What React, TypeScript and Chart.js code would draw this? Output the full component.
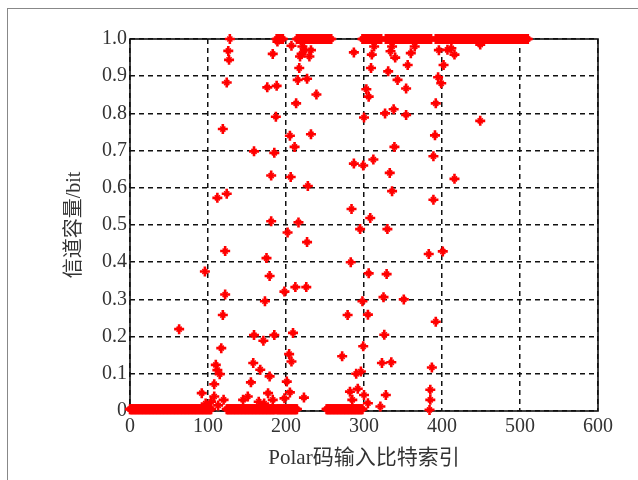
import React, { useEffect, useRef } from 'react';
import { Chart, registerables } from 'chart.js';

Chart.register(...registerables);

// Tick values
const xTickValues = [0, 100, 200, 300, 400, 500, 600];
const yTickValues = [0, 0.1, 0.2, 0.3, 0.4, 0.5, 0.6, 0.7, 0.8, 0.9, 1.0];

// Runs of bit indices whose capacity sits at ~0 or ~1
const lowRuns = [[0, 104], [124, 186], [188, 214], [252, 298]];
const lowCap = 0.005;
const highRuns = [[188, 196], [214, 258], [298, 322], [328, 386], [392, 510]];
const highCap = 1.0;

// Scattered (polarising) bit indices and their capacities
const midIdx = [
  63, 96, 92, 97, 110, 108, 115, 112, 117, 119, 122, 122, 112, 124, 119, 124, 127, 126, 128, 108, 120, 104, 113,
  159, 159, 155, 158, 151, 167, 171, 173, 175, 179, 181, 181, 176, 188, 187, 185, 183, 189, 185, 179, 177, 145, 165, 172, 183,
  201, 198, 202, 206, 205, 211, 207, 204, 207, 209, 212, 216, 213, 217, 215, 218, 221, 227, 230, 226, 227, 228, 232, 239, 223, 198, 205, 220, 224, 232,
  272, 279, 283, 284, 287, 287, 295, 282, 296, 299, 298, 299, 300, 303, 306, 305, 306, 308, 309, 312, 310, 313, 300, 305, 290, 285, 292,
  323, 326, 325, 329, 330, 327, 333, 331, 336, 339, 338, 343, 335, 328, 321, 334, 354, 351, 354, 356, 360, 365, 340, 336,
  383, 389, 389, 391, 392, 392, 395, 399, 402, 401, 387, 385, 385, 384, 416, 416, 407, 449, 449, 396, 412,
];
const midCap = [
  0.22, 0.375, 0.048, 0.02, 0.124, 0.072, 0.099, 0.11, 0.169, 0.258, 0.313, 0.43, 0.573, 0.584, 0.758, 0.883, 0.944, 0.968, 1.0, 0.039, 0.03, 0.025, 0.015,
  0.698, 0.204, 0.077, 0.129, 0.039, 0.111, 0.189, 0.295, 0.411, 0.363, 0.51, 0.633, 0.87, 0.874, 0.791, 0.694, 0.96, 0.993, 0.204, 0.093, 0.048, 0.03, 0.025, 0.02, 0.03,
  0.079, 0.321, 0.48, 0.629, 0.74, 0.71, 0.982, 0.153, 0.133, 0.21, 0.333, 0.507, 0.827, 0.922, 0.89, 0.953, 0.98, 0.893, 0.953, 0.333, 0.454, 0.605, 0.744, 0.851, 0.036, 0.034, 0.05, 0.96, 0.97, 0.97,
  0.147, 0.258, 0.4, 0.543, 0.665, 0.964, 0.489, 0.052, 0.106, 0.174, 0.295, 0.66, 0.789, 0.865, 0.845, 0.259, 0.37, 0.519, 0.922, 0.676, 0.958, 0.98, 0.043, 0.021, 0.1, 0.03, 0.06,
  0.129, 0.205, 0.306, 0.368, 0.489, 0.8, 0.64, 0.913, 0.591, 0.71, 0.811, 0.89, 0.131, 0.043, 0.012, 0.967, 0.867, 0.3, 0.796, 0.93, 0.962, 0.98, 0.95, 0.98,
  0.422, 0.568, 0.685, 0.741, 0.24, 0.827, 0.897, 0.881, 0.93, 0.429, 0.117, 0.057, 0.03, 0.003, 0.624, 0.958, 0.971, 0.78, 0.985, 0.97, 0.975,
];

const xTitle = 'Polar码输入比特索引';
const yTitle = '信道容量/bit';

const FONT = "'Liberation Serif', 'Times New Roman', 'Noto Sans CJK SC', serif";

function buildPoints() {
  const pts: { x: number; y: number }[] = [];
  for (const [a, b] of lowRuns) for (let i = a; i <= b; i++) pts.push({ x: i, y: lowCap });
  for (const [a, b] of highRuns) for (let i = a; i <= b; i++) pts.push({ x: i, y: highCap });
  midIdx.forEach((x, k) => pts.push({ x, y: midCap[k] }));
  return pts;
}

const frameBox = {
  id: 'frameBox',
  beforeDatasetsDraw(chart: any) {
    const { ctx, chartArea: a } = chart;
    ctx.save();
    ctx.strokeStyle = '#111';
    ctx.lineWidth = 1.6;
    ctx.setLineDash([]);
    ctx.strokeRect(a.left, a.top, a.right - a.left, a.bottom - a.top);
    ctx.restore();
  },
};

export default function App() {
  const ref = useRef<HTMLCanvasElement>(null);
  useEffect(() => {
    if (!ref.current) return;
    const points = buildPoints();
    const chart = new Chart(ref.current, {
      type: 'scatter',
      data: {
        datasets: [
          {
            data: points,
            pointStyle: 'cross',
            radius: 5,
            borderColor: '#ff0000',
            backgroundColor: '#ff0000',
            borderWidth: 2.6,
            clip: false as any,
          },
          {
            data: points,
            pointStyle: 'crossRot',
            radius: 3.6,
            borderColor: '#ff0000',
            backgroundColor: '#ff0000',
            borderWidth: 1.6,
            clip: false as any,
          },
        ],
      },
      options: {
        responsive: false,
        animation: false,
        devicePixelRatio: 1,
        layout: { padding: { left: 60, right: 40, top: 39, bottom: 0 } },
        plugins: { legend: { display: false }, tooltip: { enabled: false } },
        scales: {
          x: {
            type: 'linear',
            min: 0,
            max: 600,
            afterFit: (s: any) => { s.height = 69; },
            afterBuildTicks: (s: any) => { s.ticks = xTickValues.map((v) => ({ value: v })); },
            ticks: { color: '#333', font: { family: FONT, size: 20 }, padding: 4, maxRotation: 0 },
            grid: { color: '#111', lineWidth: 1.5, drawTicks: false },
            border: { display: false, dash: [5, 4] },
            title: { display: true, text: xTitle, color: '#333', font: { family: FONT, size: 21 }, padding: { top: 0, bottom: 9 } },
          },
          y: {
            type: 'linear',
            min: 0,
            max: 1,
            afterFit: (s: any) => { s.width = 70; },
            afterBuildTicks: (s: any) => { s.ticks = yTickValues.map((v) => ({ value: v })); },
            ticks: {
              color: '#333',
              font: { family: FONT, size: 20 },
              padding: 3,
              callback: (v: any) => (Number(v) === 0 ? '0' : Number(v).toFixed(1)),
            },
            grid: { color: '#111', lineWidth: 1.5, drawTicks: false },
            border: { display: false, dash: [5, 4] },
            title: { display: true, text: yTitle, color: '#333', font: { family: FONT, size: 20 }, padding: { top: 3, bottom: 0 } },
          },
        },
      },
      plugins: [frameBox],
    });
    return () => chart.destroy();
  }, []);

  return (
    <div style={{ position: 'absolute', left: 0, top: 0, width: 638, height: 480, overflow: 'hidden', background: '#fff' }}>
      <div style={{ position: 'absolute', left: 7, top: 8, width: 700, height: 600, border: '1px solid #888' }} />
      <canvas ref={ref} width={638} height={480} style={{ position: 'absolute', left: 0, top: 0 }} />
    </div>
  );
}
